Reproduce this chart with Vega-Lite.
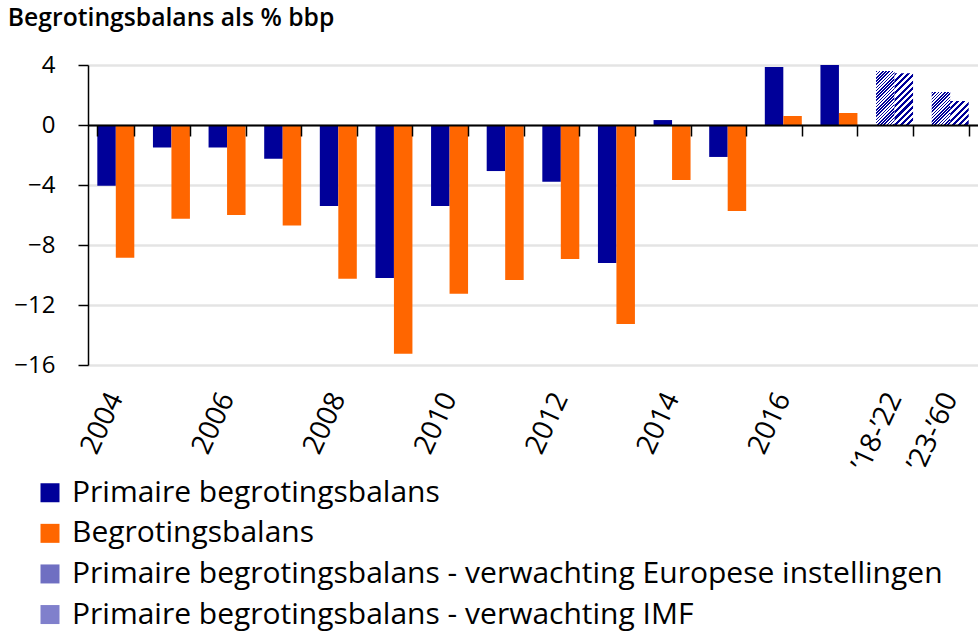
{
  "$schema": "https://vega.github.io/schema/vega-lite/v6.json",
  "width": 890,
  "height": 300,
  "padding": {"left": 7, "top": 6, "right": 0, "bottom": 4},
  "autosize": {"type": "pad"},
  "background": "white",
  "title": {"text": "Begrotingsbalans als % bbp", "anchor": "start", "frame": "bounds", "fontSize": 24.7, "fontWeight": 600, "color": "black", "offset": 22, "font": "Open Sans", "dx": -6},
  "config": {"font": "Open Sans", "view": {"stroke": null}},
  "data": {"values": [
    {"periode": "2004", "reeks": "Primaire begrotingsbalans", "waarde": -4.05},
    {"periode": "2004", "reeks": "Begrotingsbalans", "waarde": -8.85},
    {"periode": "2005", "reeks": "Primaire begrotingsbalans", "waarde": -1.5},
    {"periode": "2005", "reeks": "Begrotingsbalans", "waarde": -6.25},
    {"periode": "2006", "reeks": "Primaire begrotingsbalans", "waarde": -1.5},
    {"periode": "2006", "reeks": "Begrotingsbalans", "waarde": -6.0},
    {"periode": "2007", "reeks": "Primaire begrotingsbalans", "waarde": -2.25},
    {"periode": "2007", "reeks": "Begrotingsbalans", "waarde": -6.7},
    {"periode": "2008", "reeks": "Primaire begrotingsbalans", "waarde": -5.4},
    {"periode": "2008", "reeks": "Begrotingsbalans", "waarde": -10.25},
    {"periode": "2009", "reeks": "Primaire begrotingsbalans", "waarde": -10.2},
    {"periode": "2009", "reeks": "Begrotingsbalans", "waarde": -15.25},
    {"periode": "2010", "reeks": "Primaire begrotingsbalans", "waarde": -5.4},
    {"periode": "2010", "reeks": "Begrotingsbalans", "waarde": -11.25},
    {"periode": "2011", "reeks": "Primaire begrotingsbalans", "waarde": -3.07},
    {"periode": "2011", "reeks": "Begrotingsbalans", "waarde": -10.33},
    {"periode": "2012", "reeks": "Primaire begrotingsbalans", "waarde": -3.78},
    {"periode": "2012", "reeks": "Begrotingsbalans", "waarde": -8.93},
    {"periode": "2013", "reeks": "Primaire begrotingsbalans", "waarde": -9.2},
    {"periode": "2013", "reeks": "Begrotingsbalans", "waarde": -13.27},
    {"periode": "2014", "reeks": "Primaire begrotingsbalans", "waarde": 0.33},
    {"periode": "2014", "reeks": "Begrotingsbalans", "waarde": -3.67},
    {"periode": "2015", "reeks": "Primaire begrotingsbalans", "waarde": -2.13},
    {"periode": "2015", "reeks": "Begrotingsbalans", "waarde": -5.73},
    {"periode": "2016", "reeks": "Primaire begrotingsbalans", "waarde": 3.87},
    {"periode": "2016", "reeks": "Begrotingsbalans", "waarde": 0.6},
    {"periode": "2017", "reeks": "Primaire begrotingsbalans", "waarde": 4.0},
    {"periode": "2017", "reeks": "Begrotingsbalans", "waarde": 0.8},
    {"periode": "’18-’22", "reeks": "Primaire begrotingsbalans - verwachting Europese instellingen", "waarde": 3.6},
    {"periode": "’18-’22", "reeks": "Primaire begrotingsbalans - verwachting IMF", "waarde": 3.45},
    {"periode": "’23-’60", "reeks": "Primaire begrotingsbalans - verwachting Europese instellingen", "waarde": 2.2},
    {"periode": "’23-’60", "reeks": "Primaire begrotingsbalans - verwachting IMF", "waarde": 1.6}
  ]},
  "encoding": {
    "x": {
      "field": "periode", "type": "nominal",
      "sort": ["2004","2005","2006","2007","2008","2009","2010","2011","2012","2013","2014","2015","2016","2017","’18-’22","’23-’60"],
      "scale": {"paddingInner": 0.335, "paddingOuter": 0.1675},
      "axis": {
        "title": null, "orient": "bottom", "offset": -240,
        "labelAngle": -65, "labelFontSize": 28, "labelColor": "black", "labelPadding": 258,
        "tickSize": 11, "tickColor": "black", "tickWidth": 1.5,
        "domainColor": "black", "domainWidth": 2, "tickBand": "extent",
        "labelOverlap": false, "labelBound": false, "grid": false, "zindex": 1,
        "labelExpr": "indexof(['2005','2007','2009','2011','2013','2015','2017'], datum.label) >= 0 ? '' : datum.label"
      }
    },
    "y": {
      "field": "waarde", "type": "quantitative",
      "scale": {"domain": [-16, 4], "nice": false},
      "axis": {
        "title": null, "values": [-16, -12, -8, -4, 0, 4],
        "labelFontSize": 24, "labelColor": "black", "labelPadding": 23,
        "tickSize": 10, "tickColor": "black", "tickWidth": 1.5,
        "domainColor": "black", "domainWidth": 1.5,
        "grid": true, "gridColor": "#e4e4e4", "gridWidth": 2.7
      }
    }
  },
  "layer": [
    {
      "transform": [{"filter": {"field": "reeks", "oneOf": ["Primaire begrotingsbalans", "Begrotingsbalans"]}}],
      "mark": {"type": "bar"},
      "encoding": {
        "xOffset": {"field": "reeks", "type": "nominal", "scale": {"domain": ["Primaire begrotingsbalans", "Begrotingsbalans"], "paddingInner": 0, "paddingOuter": 0}},
        "color": {
          "field": "reeks", "type": "nominal",
          "scale": {
            "domain": ["Primaire begrotingsbalans", "Begrotingsbalans", "Primaire begrotingsbalans - verwachting Europese instellingen", "Primaire begrotingsbalans - verwachting IMF"],
            "range": ["#000099", "#ff6600", "#6f6fc2", "#8080cc"]
          },
          "legend": {
            "orient": "none", "direction": "vertical", "legendX": -53, "legendY": 412.75,
            "title": null, "symbolType": "square", "symbolSize": 361, "symbolStrokeWidth": 0,
            "labelFontSize": 30, "labelColor": "black", "labelOffset": 7, "rowPadding": 10.6,
            "labelLimit": 0, "padding": 0
          }
        }
      }
    },
    {
      "transform": [{"filter": {"field": "reeks", "oneOf": ["Primaire begrotingsbalans - verwachting Europese instellingen", "Primaire begrotingsbalans - verwachting IMF"]}}],
      "mark": {"type": "bar"},
      "encoding": {
        "xOffset": {"field": "reeks", "type": "nominal", "scale": {"domain": ["Primaire begrotingsbalans - verwachting Europese instellingen", "Primaire begrotingsbalans - verwachting IMF"], "paddingInner": 0, "paddingOuter": 0}},
        "fill": {
          "condition": [
            {"test": "datum.periode === '’18-’22' && indexof(datum.reeks, 'IMF') < 0", "value": {"gradient": "linear", "x1": 0, "y1": 0, "x2": 0.4543, "y2": 1.3262, "stops": [{"offset":0,"color":"#009"},{"offset":0.02,"color":"#009"},{"offset":0.02,"color":"#fff"},{"offset":0.04,"color":"#fff"},{"offset":0.04,"color":"#009"},{"offset":0.06,"color":"#009"},{"offset":0.06,"color":"#fff"},{"offset":0.08,"color":"#fff"},{"offset":0.08,"color":"#009"},{"offset":0.1,"color":"#009"},{"offset":0.1,"color":"#fff"},{"offset":0.12,"color":"#fff"},{"offset":0.12,"color":"#009"},{"offset":0.14,"color":"#009"},{"offset":0.14,"color":"#fff"},{"offset":0.16,"color":"#fff"},{"offset":0.16,"color":"#009"},{"offset":0.18,"color":"#009"},{"offset":0.18,"color":"#fff"},{"offset":0.2,"color":"#fff"},{"offset":0.2,"color":"#009"},{"offset":0.22,"color":"#009"},{"offset":0.22,"color":"#fff"},{"offset":0.24,"color":"#fff"},{"offset":0.24,"color":"#009"},{"offset":0.26,"color":"#009"},{"offset":0.26,"color":"#fff"},{"offset":0.28,"color":"#fff"},{"offset":0.28,"color":"#009"},{"offset":0.3,"color":"#009"},{"offset":0.3,"color":"#fff"},{"offset":0.32,"color":"#fff"},{"offset":0.32,"color":"#009"},{"offset":0.34,"color":"#009"},{"offset":0.34,"color":"#fff"},{"offset":0.36,"color":"#fff"},{"offset":0.36,"color":"#009"},{"offset":0.38,"color":"#009"},{"offset":0.38,"color":"#fff"},{"offset":0.4,"color":"#fff"},{"offset":0.4,"color":"#009"},{"offset":0.42,"color":"#009"},{"offset":0.42,"color":"#fff"},{"offset":0.44,"color":"#fff"},{"offset":0.44,"color":"#009"},{"offset":0.46,"color":"#009"},{"offset":0.46,"color":"#fff"},{"offset":0.48,"color":"#fff"},{"offset":0.48,"color":"#009"},{"offset":0.5,"color":"#009"},{"offset":0.5,"color":"#fff"},{"offset":0.52,"color":"#fff"},{"offset":0.52,"color":"#009"},{"offset":0.54,"color":"#009"},{"offset":0.54,"color":"#fff"},{"offset":0.56,"color":"#fff"},{"offset":0.56,"color":"#009"},{"offset":0.58,"color":"#009"},{"offset":0.58,"color":"#fff"},{"offset":0.6,"color":"#fff"},{"offset":0.6,"color":"#009"},{"offset":0.62,"color":"#009"},{"offset":0.62,"color":"#fff"},{"offset":0.64,"color":"#fff"},{"offset":0.64,"color":"#009"},{"offset":0.66,"color":"#009"},{"offset":0.66,"color":"#fff"},{"offset":0.68,"color":"#fff"},{"offset":0.68,"color":"#009"},{"offset":0.7,"color":"#009"},{"offset":0.7,"color":"#fff"},{"offset":0.72,"color":"#fff"},{"offset":0.72,"color":"#009"},{"offset":0.74,"color":"#009"},{"offset":0.74,"color":"#fff"},{"offset":0.76,"color":"#fff"},{"offset":0.76,"color":"#009"},{"offset":0.78,"color":"#009"},{"offset":0.78,"color":"#fff"},{"offset":0.8,"color":"#fff"},{"offset":0.8,"color":"#009"},{"offset":0.82,"color":"#009"},{"offset":0.82,"color":"#fff"},{"offset":0.84,"color":"#fff"},{"offset":0.84,"color":"#009"},{"offset":0.86,"color":"#009"},{"offset":0.86,"color":"#fff"},{"offset":0.88,"color":"#fff"},{"offset":0.88,"color":"#009"},{"offset":0.9,"color":"#009"},{"offset":0.9,"color":"#fff"},{"offset":0.92,"color":"#fff"},{"offset":0.92,"color":"#009"},{"offset":0.94,"color":"#009"},{"offset":0.94,"color":"#fff"},{"offset":0.96,"color":"#fff"},{"offset":0.96,"color":"#009"},{"offset":0.98,"color":"#009"},{"offset":0.98,"color":"#fff"},{"offset":1,"color":"#fff"}]}},
            {"test": "datum.periode === '’18-’22'", "value": {"gradient": "linear", "x1": 0, "y1": 0, "x2": 0.4824, "y2": 1.3493, "stops": [{"offset":0,"color":"#009"},{"offset":0.04,"color":"#009"},{"offset":0.04,"color":"#fff"},{"offset":0.08,"color":"#fff"},{"offset":0.08,"color":"#009"},{"offset":0.12,"color":"#009"},{"offset":0.12,"color":"#fff"},{"offset":0.16,"color":"#fff"},{"offset":0.16,"color":"#009"},{"offset":0.2,"color":"#009"},{"offset":0.2,"color":"#fff"},{"offset":0.24,"color":"#fff"},{"offset":0.24,"color":"#009"},{"offset":0.28,"color":"#009"},{"offset":0.28,"color":"#fff"},{"offset":0.32,"color":"#fff"},{"offset":0.32,"color":"#009"},{"offset":0.36,"color":"#009"},{"offset":0.36,"color":"#fff"},{"offset":0.4,"color":"#fff"},{"offset":0.4,"color":"#009"},{"offset":0.44,"color":"#009"},{"offset":0.44,"color":"#fff"},{"offset":0.48,"color":"#fff"},{"offset":0.48,"color":"#009"},{"offset":0.52,"color":"#009"},{"offset":0.52,"color":"#fff"},{"offset":0.56,"color":"#fff"},{"offset":0.56,"color":"#009"},{"offset":0.6,"color":"#009"},{"offset":0.6,"color":"#fff"},{"offset":0.64,"color":"#fff"},{"offset":0.64,"color":"#009"},{"offset":0.68,"color":"#009"},{"offset":0.68,"color":"#fff"},{"offset":0.72,"color":"#fff"},{"offset":0.72,"color":"#009"},{"offset":0.76,"color":"#009"},{"offset":0.76,"color":"#fff"},{"offset":0.8,"color":"#fff"},{"offset":0.8,"color":"#009"},{"offset":0.84,"color":"#009"},{"offset":0.84,"color":"#fff"},{"offset":0.88,"color":"#fff"},{"offset":0.88,"color":"#009"},{"offset":0.92,"color":"#009"},{"offset":0.92,"color":"#fff"},{"offset":0.96,"color":"#fff"},{"offset":0.96,"color":"#009"},{"offset":1,"color":"#009"}]}},
            {"test": "indexof(datum.reeks, 'IMF') < 0", "value": {"gradient": "linear", "x1": 0, "y1": 0, "x2": 1.034, "y2": 1.8444, "stops": [{"offset":0,"color":"#009"},{"offset":0.02,"color":"#009"},{"offset":0.02,"color":"#fff"},{"offset":0.04,"color":"#fff"},{"offset":0.04,"color":"#009"},{"offset":0.06,"color":"#009"},{"offset":0.06,"color":"#fff"},{"offset":0.08,"color":"#fff"},{"offset":0.08,"color":"#009"},{"offset":0.1,"color":"#009"},{"offset":0.1,"color":"#fff"},{"offset":0.12,"color":"#fff"},{"offset":0.12,"color":"#009"},{"offset":0.14,"color":"#009"},{"offset":0.14,"color":"#fff"},{"offset":0.16,"color":"#fff"},{"offset":0.16,"color":"#009"},{"offset":0.18,"color":"#009"},{"offset":0.18,"color":"#fff"},{"offset":0.2,"color":"#fff"},{"offset":0.2,"color":"#009"},{"offset":0.22,"color":"#009"},{"offset":0.22,"color":"#fff"},{"offset":0.24,"color":"#fff"},{"offset":0.24,"color":"#009"},{"offset":0.26,"color":"#009"},{"offset":0.26,"color":"#fff"},{"offset":0.28,"color":"#fff"},{"offset":0.28,"color":"#009"},{"offset":0.3,"color":"#009"},{"offset":0.3,"color":"#fff"},{"offset":0.32,"color":"#fff"},{"offset":0.32,"color":"#009"},{"offset":0.34,"color":"#009"},{"offset":0.34,"color":"#fff"},{"offset":0.36,"color":"#fff"},{"offset":0.36,"color":"#009"},{"offset":0.38,"color":"#009"},{"offset":0.38,"color":"#fff"},{"offset":0.4,"color":"#fff"},{"offset":0.4,"color":"#009"},{"offset":0.42,"color":"#009"},{"offset":0.42,"color":"#fff"},{"offset":0.44,"color":"#fff"},{"offset":0.44,"color":"#009"},{"offset":0.46,"color":"#009"},{"offset":0.46,"color":"#fff"},{"offset":0.48,"color":"#fff"},{"offset":0.48,"color":"#009"},{"offset":0.5,"color":"#009"},{"offset":0.5,"color":"#fff"},{"offset":0.52,"color":"#fff"},{"offset":0.52,"color":"#009"},{"offset":0.54,"color":"#009"},{"offset":0.54,"color":"#fff"},{"offset":0.56,"color":"#fff"},{"offset":0.56,"color":"#009"},{"offset":0.58,"color":"#009"},{"offset":0.58,"color":"#fff"},{"offset":0.6,"color":"#fff"},{"offset":0.6,"color":"#009"},{"offset":0.62,"color":"#009"},{"offset":0.62,"color":"#fff"},{"offset":0.64,"color":"#fff"},{"offset":0.64,"color":"#009"},{"offset":0.66,"color":"#009"},{"offset":0.66,"color":"#fff"},{"offset":0.68,"color":"#fff"},{"offset":0.68,"color":"#009"},{"offset":0.7,"color":"#009"},{"offset":0.7,"color":"#fff"},{"offset":0.72,"color":"#fff"},{"offset":0.72,"color":"#009"},{"offset":0.74,"color":"#009"},{"offset":0.74,"color":"#fff"},{"offset":0.76,"color":"#fff"},{"offset":0.76,"color":"#009"},{"offset":0.78,"color":"#009"},{"offset":0.78,"color":"#fff"},{"offset":0.8,"color":"#fff"},{"offset":0.8,"color":"#009"},{"offset":0.82,"color":"#009"},{"offset":0.82,"color":"#fff"},{"offset":0.84,"color":"#fff"},{"offset":0.84,"color":"#009"},{"offset":0.86,"color":"#009"},{"offset":0.86,"color":"#fff"},{"offset":0.88,"color":"#fff"},{"offset":0.88,"color":"#009"},{"offset":0.9,"color":"#009"},{"offset":0.9,"color":"#fff"},{"offset":0.92,"color":"#fff"},{"offset":0.92,"color":"#009"},{"offset":0.94,"color":"#009"},{"offset":0.94,"color":"#fff"},{"offset":0.96,"color":"#fff"},{"offset":0.96,"color":"#009"},{"offset":0.98,"color":"#009"},{"offset":0.98,"color":"#fff"},{"offset":1,"color":"#fff"}]}}
          ],
          "value": {"gradient": "linear", "x1": 0, "y1": 0, "x2": 1.5864, "y2": 2.0581, "stops": [{"offset":0,"color":"#009"},{"offset":0.04,"color":"#009"},{"offset":0.04,"color":"#fff"},{"offset":0.08,"color":"#fff"},{"offset":0.08,"color":"#009"},{"offset":0.12,"color":"#009"},{"offset":0.12,"color":"#fff"},{"offset":0.16,"color":"#fff"},{"offset":0.16,"color":"#009"},{"offset":0.2,"color":"#009"},{"offset":0.2,"color":"#fff"},{"offset":0.24,"color":"#fff"},{"offset":0.24,"color":"#009"},{"offset":0.28,"color":"#009"},{"offset":0.28,"color":"#fff"},{"offset":0.32,"color":"#fff"},{"offset":0.32,"color":"#009"},{"offset":0.36,"color":"#009"},{"offset":0.36,"color":"#fff"},{"offset":0.4,"color":"#fff"},{"offset":0.4,"color":"#009"},{"offset":0.44,"color":"#009"},{"offset":0.44,"color":"#fff"},{"offset":0.48,"color":"#fff"},{"offset":0.48,"color":"#009"},{"offset":0.52,"color":"#009"},{"offset":0.52,"color":"#fff"},{"offset":0.56,"color":"#fff"},{"offset":0.56,"color":"#009"},{"offset":0.6,"color":"#009"},{"offset":0.6,"color":"#fff"},{"offset":0.64,"color":"#fff"},{"offset":0.64,"color":"#009"},{"offset":0.68,"color":"#009"},{"offset":0.68,"color":"#fff"},{"offset":0.72,"color":"#fff"},{"offset":0.72,"color":"#009"},{"offset":0.76,"color":"#009"},{"offset":0.76,"color":"#fff"},{"offset":0.8,"color":"#fff"},{"offset":0.8,"color":"#009"},{"offset":0.84,"color":"#009"},{"offset":0.84,"color":"#fff"},{"offset":0.88,"color":"#fff"},{"offset":0.88,"color":"#009"},{"offset":0.92,"color":"#009"},{"offset":0.92,"color":"#fff"},{"offset":0.96,"color":"#fff"},{"offset":0.96,"color":"#009"},{"offset":1,"color":"#009"}]}
        }
      }
    }
  ],
  "resolve": {"scale": {"xOffset": "independent"}}
}
